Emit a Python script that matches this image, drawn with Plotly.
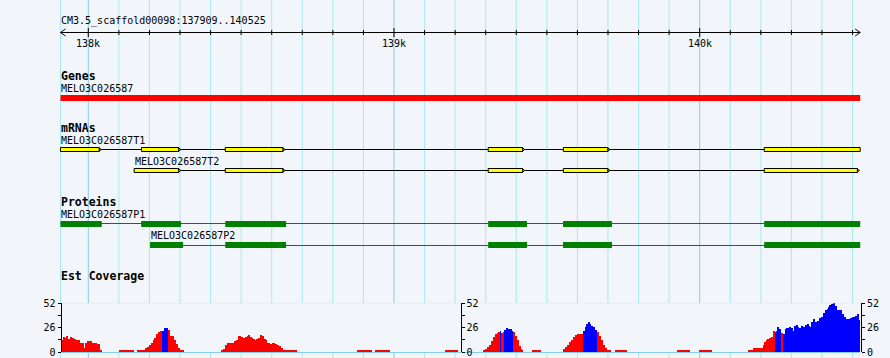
import plotly.graph_objects as go

# ---------------- data ----------------
VIEW_START, VIEW_END = 137909, 140525
ruler_title = "CM3.5_scaffold00098:137909..140525"
ruler_label_pos = [138000, 139000, 140000]
ruler_labels = ["138k", "139k", "140k"]
tick_step = 100
major_step = 1000

track_titles = ["Genes", "mRNAs", "Proteins", "Est Coverage"]

gene_name = "MELO3C026587"
gene_start, gene_end = 137909, 140525

t1_name = "MELO3C026587T1"
t1_exon_start = [137909, 138174, 138448, 139308, 139554, 140211]
t1_exon_end = [138036, 138296, 138637, 139421, 139700, 140525]
t2_name = "MELO3C026587T2"
t2_exon_start = [138150, 138448, 139308, 139554, 140211]
t2_exon_end = [138296, 138637, 139421, 139700, 140516]

p1_name = "MELO3C026587P1"
p1_cds_start = [137909, 138173, 138448, 139308, 139553, 140211]
p1_cds_end = [138044, 138303, 138647, 139435, 139713, 140525]
p2_name = "MELO3C026587P2"
p2_cds_start = [138202, 138448, 139308, 139553, 140211]
p2_cds_end = [138310, 138647, 139435, 139713, 140525]

cov_max = 52
cov_tick_vals = [0, 13, 26, 39, 52]
cov_tick_text = ["0", "", "26", "", "52"]

# coverage blocks: edges (bp), depth per run, kind per run (r = red, b = blue)
cov_a_edges = [137911, 137915, 137920, 137924, 137930, 137935, 137941, 137948, 137954, 137961,
               137967, 137974, 137987, 137992, 137996, 138011, 138029, 138039, 138044]
cov_a_depth = [12, 13, 16, 15, 17, 14, 16, 15, 14, 13, 12, 9, 4, 9, 11, 9, 8, 2]
cov_a_kind = "r" * 18

cov_b_edges = [138185, 138192, 138199, 138205, 138212, 138216, 138222, 138229, 138236, 138242,
               138249, 138255, 138262, 138268, 138281, 138288, 138294, 138301, 138308, 138314]
cov_b_depth = [4, 5, 7, 9, 12, 15, 19, 21, 22, 22, 25, 25, 23, 17, 12, 8, 4, 2, 1]
cov_b_kind = "r" * 9 + "b" * 3 + "r" * 7

cov_c_edges = [138437, 138442, 138448, 138455, 138479, 138483, 138490, 138501, 138507, 138514,
               138518, 138525, 138529, 138533, 138538, 138544, 138551, 138557, 138562, 138568,
               138575, 138579, 138586, 138594, 138601, 138605, 138612, 138618, 138625, 138631,
               138638, 138682]
cov_c_depth = [1, 3, 7, 9, 11, 12, 17, 16, 15, 16, 17, 18, 16, 15, 14, 13, 14, 15, 18, 17,
               14, 12, 9, 8, 9, 9, 8, 7, 6, 4, 1]
cov_c_kind = "r" * 31

cov_d_edges = [139291, 139298, 139304, 139311, 139317, 139324, 139330, 139337, 139343, 139348,
               139350, 139357, 139361, 139367, 139372, 139385, 139389, 139396, 139402, 139409,
               139413, 139418, 139422]
cov_d_depth = [2, 3, 5, 7, 11, 16, 19, 20, 21, 22, 20, 21, 23, 25, 24, 22, 21, 17, 12, 6, 3, 1]
cov_d_kind = "r" * 9 + "b" + "rr" + "b" * 4 + "r" * 6

cov_e_edges = [139553, 139559, 139566, 139572, 139579, 139586, 139592, 139599, 139618, 139625,
               139631, 139636, 139640, 139644, 139651, 139658, 139664, 139671, 139677, 139684,
               139690, 139697, 139703, 139710]
cov_e_depth = [3, 5, 7, 10, 13, 16, 18, 19, 22, 26, 30, 32, 30, 27, 26, 23, 21, 17, 12, 7, 4, 2, 1]
cov_e_kind = "r" * 8 + "b" * 8 + "r" * 7

cov_f_edges = [140158, 140175, 140208, 140213, 140217, 140221, 140228, 140234, 140239, 140247,
               140250, 140254, 140258, 140265, 140274, 140278, 140285, 140291, 140298, 140304,
               140311, 140315, 140319, 140326, 140333, 140339, 140346, 140352, 140357, 140361,
               140367, 140372, 140378, 140385, 140391, 140398, 140405, 140411, 140418, 140422,
               140426, 140431, 140435, 140444, 140448, 140461, 140466, 140472, 140479, 140485,
               140492, 140498, 140509, 140516, 140520, 140524]
cov_f_depth = [1, 4, 7, 10, 12, 14, 15, 16, 22, 21, 22, 26, 24, 20, 19, 24, 25, 26, 25, 22,
               27, 29, 26, 25, 27, 26, 28, 30, 27, 26, 32, 35, 32, 33, 36, 37, 41, 45, 46, 48,
               50, 51, 52, 49, 45, 45, 40, 37, 35, 35, 36, 37, 38, 40, 34]
cov_f_kind = "r" * 9 + "b" + "r" + "bb" + "r" + "b" * 41

cov_flat_start = [138100, 138159, 138880, 138939, 139168, 139452, 139723, 139927, 139999]
cov_flat_end = [138149, 138185, 138928, 138987, 139210, 139481, 139762, 139968, 140040]
cov_flat_depth = [1, 1, 1, 1, 1, 1, 1, 1, 1]

# ---------------- styling / layout ----------------
W, H = 890, 358
X_RANGE = [137711.15, 140622.5]
BP_PER_PX = (X_RANGE[1] - X_RANGE[0]) / W
BG = "#f2f5fa"
GRID_MINOR = "#a6eaf0"
GRID_MAJOR = "#88cdee"
MONO = "DejaVu Sans Mono"
RED, BLUE, YELLOW, GREEN = "#ff0000", "#0000ff", "#ffff00", "#008000"

fig = go.Figure()
shapes = []
annotations = []


def text(x, y, s, bold=False, size=10, xanchor="left"):
    annotations.append(dict(
        x=x, y=y, xref="x", yref="y", text=("<b>%s</b>" % s) if bold else s,
        showarrow=False, xanchor=xanchor, yanchor="middle",
        font=dict(family=MONO, size=size, color="black"), borderpad=0))


# vertical grid lines
grid_pos = [VIEW_START] + list(range(138000, VIEW_END, tick_step))
for g in grid_pos:
    shapes.append(dict(type="line", xref="x", yref="paper", x0=g, x1=g, y0=0, y1=1,
                       line=dict(color=GRID_MAJOR if g % major_step == 0 else GRID_MINOR, width=1),
                       layer="below"))

# horizontal grid in coverage panel (pixel rows)
for yy in [303.5, 305.5, 314.5, 324.5, 334.5, 343.5]:
    shapes.append(dict(type="line", xref="x", yref="y", x0=VIEW_START, x1=VIEW_END, y0=yy, y1=yy,
                       line=dict(color=GRID_MINOR, width=1), layer="below"))
shapes.append(dict(type="line", xref="x", yref="y", x0=VIEW_START, x1=VIEW_END, y0=352.5, y1=352.5,
                   line=dict(color=GRID_MAJOR, width=1), layer="below"))

# ---- ruler ----
RY = 32.5
rx, ry = [VIEW_START, VIEW_END, None], [RY, RY, None]
ah = 5 * BP_PER_PX
rx += [VIEW_START + ah, VIEW_START, VIEW_START + ah, None]
ry += [RY - 3.5, RY, RY + 3.5, None]
rx += [VIEW_END - ah, VIEW_END, VIEW_END - ah, None]
ry += [RY - 3.5, RY, RY + 3.5, None]
for t in range(138000, VIEW_END, tick_step):
    if t % major_step == 0:
        rx += [t, t, None]; ry += [28, 37, None]
    else:
        rx += [t, t, None]; ry += [30, 35, None]
fig.add_trace(go.Scatter(x=rx, y=ry, mode="lines", line=dict(color="black", width=1),
                         hoverinfo="skip", xaxis="x", yaxis="y"))
text(VIEW_START, 21, ruler_title)
for p, lab in zip(ruler_label_pos, ruler_labels):
    text(p, 43, lab, xanchor="center")

# ---- Genes ----
text(VIEW_START, 76, track_titles[0], bold=True, size=11.5)
text(gene_start, 88.5, gene_name)
shapes.append(dict(type="rect", xref="x", yref="y", x0=gene_start, x1=gene_end, y0=95, y1=101,
                   fillcolor=RED, line=dict(width=0)))

# ---- mRNAs ----
tip = 2 * BP_PER_PX


def mrna(starts, ends, yc):
    shapes.append(dict(type="line", xref="x", yref="y", x0=starts[0], x1=ends[-1], y0=yc, y1=yc,
                       line=dict(color="black", width=1)))
    for s, e in zip(starts, ends):
        shapes.append(dict(type="rect", xref="x", yref="y", x0=s, x1=e, y0=yc - 2, y1=yc + 2,
                           fillcolor=YELLOW, line=dict(color="black", width=1)))
        if e < VIEW_END:
            shapes.append(dict(type="path", xref="x", yref="y",
                               path="M %f,%f L %f,%f L %f,%f Z" % (e, yc - 1.5, e + tip, yc, e, yc + 1.5),
                               fillcolor=YELLOW, line=dict(color="black", width=1)))


text(VIEW_START, 128, track_titles[1], bold=True, size=11.5)
text(t1_exon_start[0], 140.5, t1_name)
mrna(t1_exon_start, t1_exon_end, 149.5)
text(t2_exon_start[0], 161.5, t2_name)
mrna(t2_exon_start, t2_exon_end, 170.5)


# ---- Proteins ----
def protein(starts, ends, y0, y1, yl):
    shapes.append(dict(type="line", xref="x", yref="y", x0=starts[0], x1=ends[-1], y0=yl, y1=yl,
                       line=dict(color=GREEN, width=1)))
    for s, e in zip(starts, ends):
        shapes.append(dict(type="rect", xref="x", yref="y", x0=s, x1=e, y0=y0, y1=y1,
                           fillcolor=GREEN, line=dict(width=0)))


text(VIEW_START, 201.5, track_titles[2], bold=True, size=11.5)
text(p1_cds_start[0], 214, p1_name)
protein(p1_cds_start, p1_cds_end, 221, 227, 223.5)
text(p2_cds_start[0], 235.5, p2_name)
protein(p2_cds_start, p2_cds_end, 242, 248, 245.5)

# ---- Est Coverage ----
text(VIEW_START, 275.5, track_titles[3], bold=True, size=11.5)

bx = {"r": [], "b": []}
bw = {"r": [], "b": []}
by = {"r": [], "b": []}
for edges, depth, kind in [(cov_a_edges, cov_a_depth, cov_a_kind), (cov_b_edges, cov_b_depth, cov_b_kind),
                           (cov_c_edges, cov_c_depth, cov_c_kind), (cov_d_edges, cov_d_depth, cov_d_kind),
                           (cov_e_edges, cov_e_depth, cov_e_kind), (cov_f_edges, cov_f_depth, cov_f_kind)]:
    for i, d in enumerate(depth):
        k = kind[i]
        bx[k].append((edges[i] + edges[i + 1]) / 2)
        bw[k].append(edges[i + 1] - edges[i])
        by[k].append(d)
for s, e, d in zip(cov_flat_start, cov_flat_end, cov_flat_depth):
    bx["r"].append((s + e) / 2); bw["r"].append(e - s); by["r"].append(d)

for k, col in [("r", RED), ("b", BLUE)]:
    fig.add_trace(go.Bar(x=bx[k], y=by[k], width=bw[k], marker=dict(color=col, line=dict(width=0)),
                         xaxis="x", yaxis="y2", hoverinfo="skip"))

# invisible anchors for extra scale axes
for ax in ["y3", "y4"]:
    fig.add_trace(go.Scatter(x=[VIEW_START], y=[0], mode="markers", marker=dict(opacity=0),
                             xaxis="x", yaxis=ax, hoverinfo="skip"))

cov_dom = [(H - 352) / H, (H - 303.3) / H]
axis_common = dict(range=[0, cov_max], tickvals=cov_tick_vals, ticktext=cov_tick_text,
                   showline=True, linecolor="black", linewidth=1, ticks="outside", ticklen=3,
                   tickcolor="black", tickwidth=1, showgrid=False, zeroline=False, automargin=False,
                   tickfont=dict(family=MONO, size=10, color="black"), fixedrange=True)

fig.update_layout(
    template="none",
    width=W, height=H, margin=dict(l=0, r=0, t=0, b=0, pad=0, autoexpand=False),
    paper_bgcolor=BG, plot_bgcolor=BG, showlegend=False, barmode="overlay", bargap=0,
    xaxis=dict(range=X_RANGE, domain=[0, 1], visible=False, fixedrange=True, automargin=False),
    yaxis=dict(range=[H, 0], domain=[0, 1], visible=False, fixedrange=True, automargin=False),
    yaxis2=dict(domain=cov_dom, anchor="free", position=60.5 / W, side="left", **axis_common),
    yaxis3=dict(overlaying="y2", anchor="free", position=460.5 / W, side="right", **axis_common),
    yaxis4=dict(overlaying="y2", anchor="free", position=861 / W, side="right", **axis_common),
    shapes=shapes, annotations=annotations,
)

fig.write_html("out.html", config={"displayModeBar": False},
               post_script="document.body.style.margin='0';document.body.style.padding='0';"
                           "document.body.style.overflow='hidden';document.body.style.background='" + BG + "';")
